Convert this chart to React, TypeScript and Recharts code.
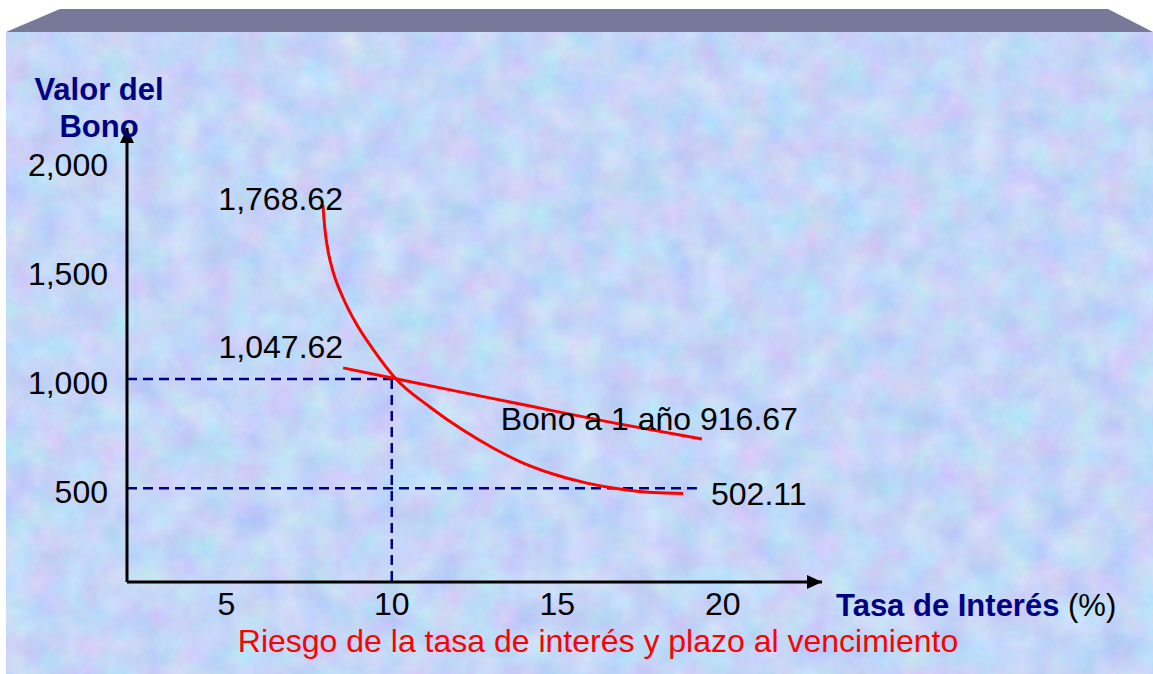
import React from "react";
import {
  LineChart,
  Line,
  XAxis,
  YAxis,
  ReferenceLine,
  ReferenceDot,
} from "recharts";

// tasa de interés (%) / valor del bono
const rate30 = [7.92, 7.98, 8.07, 8.22, 8.53, 8.95, 9.43, 10.1, 11.15, 12.15, 13.06, 13.87, 14.87, 15.9, 16.89, 17.89, 18.8];
const value30 = [1797, 1687, 1591, 1495, 1371, 1247, 1137, 1005, 872, 766, 684, 622, 565, 523, 496, 480, 476];
const rate1 = [8.53, 10.16, 12.06, 14.18, 16.74, 19.37];
const value1 = [1051, 1000, 941, 876, 798, 725];

const xTicks = [5, 10, 15, 20];
const yTicks = [500, 1000, 1500, 2000];
const xDomain = [2, 23];
const yDomain = [70, 2150];

const longLabels = ["1,768.62", "502.11"];
const shortLabels = ["1,047.62", "Bono a 1 año 916.67"];

const bond30 = rate30.map((x, i) => ({ x, y: value30[i] }));
const bond1 = rate1.map((x, i) => ({ x, y: value1[i] }));

const FONT = '"Liberation Sans", Arial, sans-serif';
const NAVY = "#000080";

const YTick = ({ x, y, payload }: any) => (
  <text x={x} y={y + 4} textAnchor="end" dominantBaseline="central" fontSize={32} fontFamily={FONT} fill="#000">
    {payload.value.toLocaleString("en-US")}
  </text>
);

const XTick = ({ x, y, payload }: any) => (
  <text x={x} y={y} textAnchor="middle" dominantBaseline="central" fontSize={32} fontFamily={FONT} fill="#000">
    {payload.value}
  </text>
);

const labelStyle = { fontSize: 32, fontFamily: FONT, fill: "#000" };

const longLabel = ({ x, y, index }: any) => {
  if (index === 0)
    return <text key="l0" x={x + 20} y={y + 5} textAnchor="end" style={labelStyle}>{longLabels[0]}</text>;
  if (index === rate30.length - 1)
    return <text key="l1" x={x + 28} y={y + 12} textAnchor="start" style={labelStyle}>{longLabels[1]}</text>;
  return null;
};

const shortLabel = ({ x, y, index }: any) => {
  if (index === 0)
    return <text key="s0" x={x} y={y - 10} textAnchor="end" style={labelStyle}>{shortLabels[0]}</text>;
  if (index === rate1.length - 1)
    return <text key="s1" x={x + 96} y={y - 9} textAnchor="end" style={labelStyle}>{shortLabels[1]}</text>;
  return null;
};

const ArrowRight = ({ cx, cy }: any) => (
  <polygon points={`${cx},${cy} ${cx - 15},${cy - 7} ${cx - 15},${cy + 7}`} fill="#000" />
);
const ArrowUp = ({ cx, cy }: any) => (
  <polygon points={`${cx},${cy} ${cx - 7},${cy + 15} ${cx + 7},${cy + 15}`} fill="#000" />
);

const dash = { stroke: NAVY, strokeWidth: 2.5, strokeDasharray: "10 6" };

const Background = () => (
  <svg width={1153} height={674} style={{ position: "absolute", left: 0, top: 0 }}>
    <defs>
      <filter id="mottle" x="0" y="0" width="100%" height="100%" colorInterpolationFilters="sRGB">
        <feTurbulence type="fractalNoise" baseFrequency="0.03" numOctaves={4} seed={7} />
        <feColorMatrix
          type="matrix"
          values="0.22 0 0 0 0.66  0 0.18 0 0 0.75  0 0 0.08 0 0.93  0 0 0 0 1"
        />
      </filter>
    </defs>
    <rect x={6} y={32} width={1147} height={642} fill="#c4d6f4" />
    <rect x={6} y={32} width={1147} height={642} filter="url(#mottle)" />
    <polygon points="60,9 1108,9 1153,32 6,32" fill="#787898" />
  </svg>
);

const Titles = () => (
  <svg width={1153} height={674} style={{ position: "absolute", left: 0, top: 0, pointerEvents: "none" }}>
    <g fontFamily={FONT}>
      <text x={99} y={100} textAnchor="middle" fontSize={31} fontWeight="bold" fill={NAVY}>Valor del</text>
      <text x={99} y={137} textAnchor="middle" fontSize={31} fontWeight="bold" fill={NAVY}>Bono</text>
      <text x={836} y={616} fontSize={31}>
        <tspan fontWeight="bold" fill={NAVY}>Tasa de Interés</tspan>
        <tspan fill="#000"> (%)</tspan>
      </text>
      <text x={598} y={652} textAnchor="middle" fontSize={32} fill="#ff0000">
        Riesgo de la tasa de interés y plazo al vencimiento
      </text>
    </g>
  </svg>
);

export default function App() {
  return (
    <div style={{ position: "absolute", left: 0, top: 0, width: 1153, height: 674, background: "#fff" }}>
      <Background />
      <div style={{ position: "absolute", left: 0, top: 0 }}>
        <LineChart width={1153} height={674} margin={{ top: 128, right: 331, left: 67, bottom: 52 }}>
          <XAxis
            type="number"
            dataKey="x"
            domain={xDomain}
            ticks={xTicks}
            allowDataOverflow
            height={40}
            tickLine={false}
            tickSize={0}
            tickMargin={22}
            axisLine={{ stroke: "#000", strokeWidth: 3 }}
            tick={<XTick />}
          />
          <YAxis
            type="number"
            dataKey="y"
            domain={yDomain}
            ticks={yTicks}
            allowDataOverflow
            width={60}
            tickLine={false}
            tickSize={0}
            tickMargin={19}
            axisLine={{ stroke: "#000", strokeWidth: 3 }}
            tick={<YTick />}
          />
          <ReferenceLine segment={[{ x: xDomain[0], y: 1000 }, { x: 10, y: 1000 }]} {...dash} ifOverflow="visible" />
          <ReferenceLine segment={[{ x: xDomain[0], y: 500 }, { x: 19.22, y: 500 }]} {...dash} ifOverflow="visible" />
          <ReferenceLine segment={[{ x: 10, y: 1000 }, { x: 10, y: yDomain[0] }]} {...dash} ifOverflow="visible" />
          <Line
            data={bond30}
            dataKey="y"
            type="monotone"
            stroke="#ff0000"
            strokeWidth={3}
            dot={false}
            label={longLabel}
            isAnimationActive={false}
          />
          <Line
            data={bond1}
            dataKey="y"
            type="monotone"
            stroke="#ff0000"
            strokeWidth={3}
            dot={false}
            label={shortLabel}
            isAnimationActive={false}
          />
          <ReferenceDot x={xDomain[1]} y={yDomain[0]} ifOverflow="visible" shape={<ArrowRight />} />
          <ReferenceDot x={xDomain[0]} y={yDomain[1]} ifOverflow="visible" shape={<ArrowUp />} />
        </LineChart>
      </div>
      <Titles />
    </div>
  );
}
